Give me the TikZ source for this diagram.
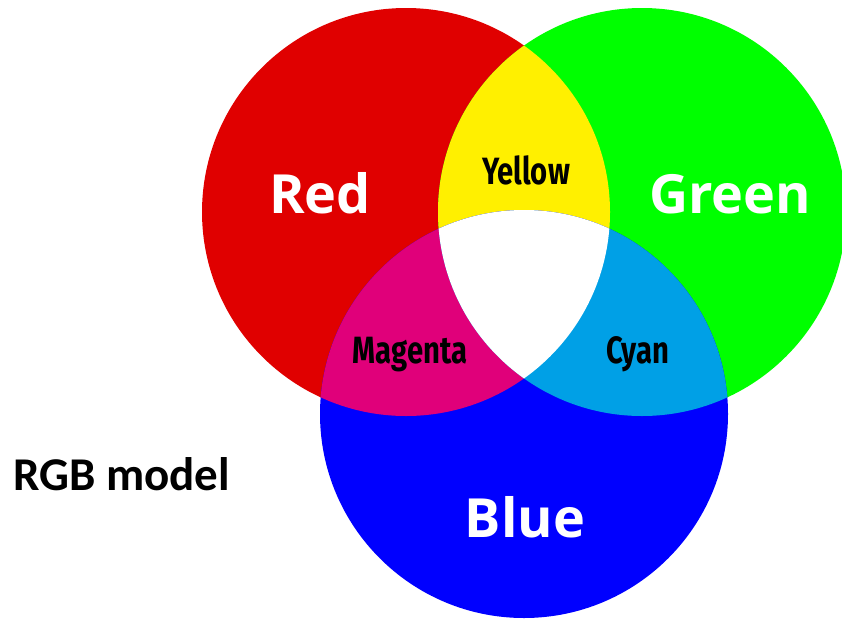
\documentclass[tikz,border=0pt]{standalone}
\usepackage{fontspec}
\setmainfont{Open Sans}
\newfontfamily\labelfont{Open Sans}
\newfontfamily\condfont{Fira Sans}[FakeStretch=0.77]
\newfontfamily\titlefont{Carlito}
\definecolor{cred}{RGB}{224,0,0}
\definecolor{cgreen}{RGB}{0,255,0}
\definecolor{cblue}{RGB}{0,0,255}
\definecolor{cyellow}{RGB}{255,240,0}
\definecolor{cmagenta}{RGB}{224,0,122}
\definecolor{ccyan}{RGB}{0,160,230}
\tikzset{
  bigname/.style={text=white, inner sep=0pt, anchor=base, font=\labelfont\bfseries\fontsize{54}{58}\selectfont},
  mixname/.style={text=black, inner sep=0pt, anchor=base, font=\condfont\bfseries\fontsize{38}{42}\selectfont},
  titlename/.style={text=black, inner sep=0pt, anchor=base west, font=\titlefont\bfseries\fontsize{47}{51}\selectfont}
}
\begin{document}
\begin{tikzpicture}[x=1pt,y=-1pt]
\useasboundingbox (0,0) rectangle (842,621);
\def\R{204}
\coordinate (cr) at (406,212);
\coordinate (cg) at (642,212);
\coordinate (cb) at (524,414);
\fill[cred] (cr) circle (\R);
\fill[cgreen] (cg) circle (\R);
\fill[cblue] (cb) circle (\R);
\begin{scope}
  \clip (cr) circle (\R);
  \fill[cyellow] (cg) circle (\R);
  \fill[cmagenta] (cb) circle (\R);
\end{scope}
\begin{scope}
  \clip (cg) circle (\R);
  \fill[ccyan] (cb) circle (\R);
  \clip (cr) circle (\R);
  \fill[white] (cb) circle (\R);
\end{scope}
\node[bigname] (red) at (320,213) {Red};
\node[bigname] (green) at (730,213) {Green};
\node[bigname] (blue) at (525,537) {Blue};
\node[mixname] (yellow) at (526,184) {Yellow};
\node[mixname] (magenta) at (410,363) {Magenta};
\node[mixname] (cyan) at (638,363) {Cyan};
\node[titlename] (title) at (13,490) {RGB model};
\end{tikzpicture}
\end{document}
